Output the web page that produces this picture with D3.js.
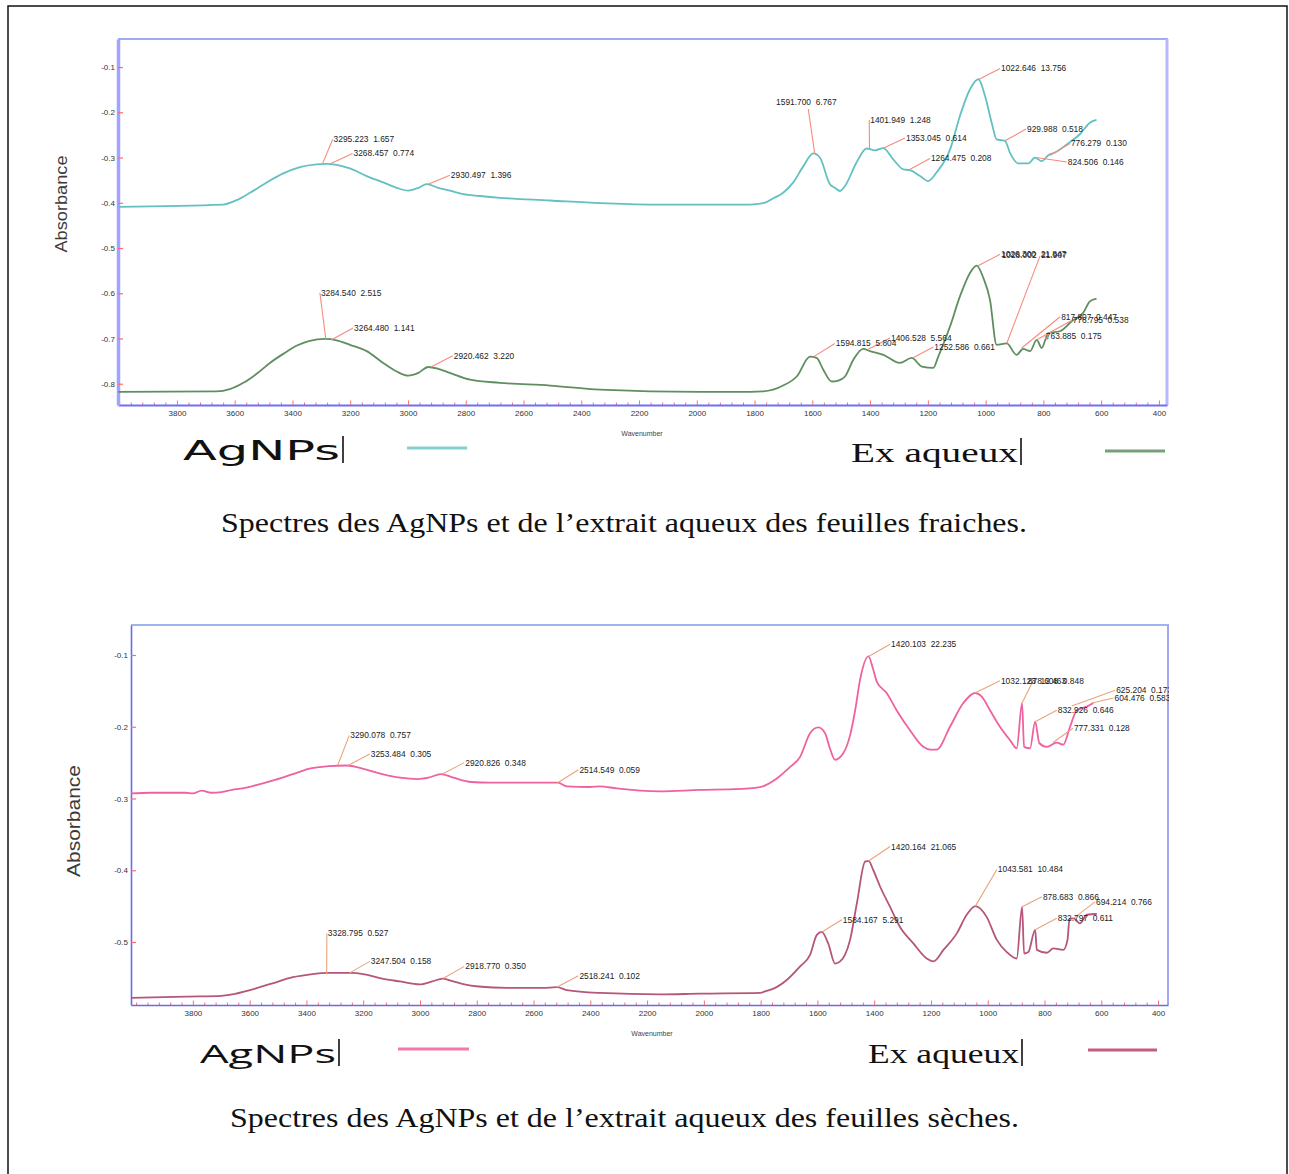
<!DOCTYPE html>
<html>
<head>
<meta charset="utf-8">
<script src="https://cdn.jsdelivr.net/npm/d3@7"></script>
<style>
    body { margin: 0; background: #fff; }
</style>
</head>
<body>
<div id="page"></div>
<script>

// ---- tick labels ----
const wnTicks = [3800, 3600, 3400, 3200, 3000, 2800, 2600, 2400, 2200, 2000, 1800, 1600, 1400, 1200, 1000, 800, 600, 400];
const freshAbsTicks = [-0.1, -0.2, -0.3, -0.4, -0.5, -0.6, -0.7, -0.8];
const dryAbsTicks = [-0.1, -0.2, -0.3, -0.4, -0.5];

// ---- spectra, [wavenumber, absorbance] ----
const freshAgNPs = [
    [4003, -0.409], [3640, -0.404], [3593, -0.394], [3547, -0.378], [3489, -0.355], [3432, -0.335],
    [3374, -0.321], [3316, -0.315], [3282, -0.314], [3247, -0.316], [3201, -0.324], [3143, -0.341],
    [3086, -0.355], [3039, -0.367], [2999, -0.373], [2964, -0.367], [2935, -0.359], [2895, -0.367],
    [2855, -0.373], [2809, -0.381], [2751, -0.385], [2682, -0.389], [2508, -0.395], [2335, -0.401],
    [2162, -0.404], [1989, -0.404], [1816, -0.404], [1770, -0.401], [1735, -0.390], [1701, -0.378],
    [1666, -0.355], [1631, -0.319], [1597, -0.291], [1574, -0.300], [1539, -0.359], [1522, -0.367],
    [1504, -0.374], [1487, -0.363], [1447, -0.311], [1412, -0.280], [1383, -0.284], [1354, -0.279],
    [1320, -0.304], [1285, -0.326], [1262, -0.328], [1227, -0.341], [1199, -0.352], [1170, -0.333],
    [1123, -0.282], [1089, -0.208], [1054, -0.149], [1025, -0.127], [1002, -0.164], [979, -0.223],
    [962, -0.260], [933, -0.263], [916, -0.289], [887, -0.313], [852, -0.313], [829, -0.300],
    [806, -0.308], [783, -0.295], [760, -0.289], [719, -0.271], [673, -0.248], [639, -0.223], [616, -0.217]
];

const freshExtract = [
    [4003, -0.818], [3663, -0.817], [3617, -0.812], [3570, -0.798], [3524, -0.778], [3478, -0.754],
    [3432, -0.734], [3386, -0.716], [3340, -0.705], [3288, -0.701], [3247, -0.704], [3201, -0.714],
    [3143, -0.728], [3086, -0.754], [3039, -0.773], [2999, -0.782], [2964, -0.776], [2930, -0.763],
    [2895, -0.767], [2855, -0.776], [2785, -0.791], [2682, -0.798], [2508, -0.804], [2335, -0.813],
    [1989, -0.818], [1816, -0.818], [1770, -0.817], [1701, -0.804], [1654, -0.784], [1608, -0.740],
    [1585, -0.743], [1562, -0.769], [1533, -0.795], [1510, -0.793], [1487, -0.784], [1458, -0.747],
    [1424, -0.723], [1400, -0.728], [1354, -0.736], [1297, -0.754], [1256, -0.743], [1221, -0.762],
    [1181, -0.765], [1164, -0.740], [1123, -0.673], [1089, -0.607], [1054, -0.555], [1031, -0.539],
    [1008, -0.566], [985, -0.614], [962, -0.714], [927, -0.711], [893, -0.736], [870, -0.723],
    [846, -0.728], [823, -0.703], [806, -0.721], [783, -0.688], [743, -0.684], [702, -0.662],
    [662, -0.643], [639, -0.618], [616, -0.612]
];

const dryAgNPs = [
    [4018, -0.293], [3951, -0.292], [3825, -0.292], [3800, -0.293], [3769, -0.289], [3737, -0.292],
    [3699, -0.291], [3662, -0.288], [3624, -0.286], [3573, -0.281], [3511, -0.274], [3448, -0.266],
    [3385, -0.258], [3322, -0.255], [3259, -0.254], [3196, -0.259], [3133, -0.266], [3070, -0.271],
    [3008, -0.273], [2970, -0.271], [2926, -0.266], [2882, -0.271], [2819, -0.277], [2756, -0.278],
    [2630, -0.278], [2514, -0.278], [2483, -0.283], [2401, -0.284], [2366, -0.283], [2307, -0.286],
    [2155, -0.290], [2014, -0.288], [1896, -0.287], [1802, -0.284], [1743, -0.272], [1696, -0.256],
    [1661, -0.242], [1626, -0.209], [1597, -0.201], [1573, -0.209], [1556, -0.230], [1538, -0.246],
    [1509, -0.237], [1485, -0.212], [1467, -0.177], [1450, -0.135], [1420, -0.102], [1405, -0.118],
    [1391, -0.137], [1356, -0.153], [1321, -0.177], [1274, -0.205], [1227, -0.228], [1203, -0.232],
    [1180, -0.232], [1133, -0.200], [1086, -0.167], [1045, -0.153], [1021, -0.158], [992, -0.177],
    [957, -0.200], [921, -0.219], [898, -0.230], [879, -0.167], [872, -0.228], [851, -0.230],
    [833, -0.193], [818, -0.223], [792, -0.228], [757, -0.222], [734, -0.225], [710, -0.200],
    [686, -0.177], [651, -0.172], [628, -0.167]
];

const dryExtract = [
    [4018, -0.578], [3825, -0.576], [3699, -0.575], [3662, -0.573], [3599, -0.567], [3523, -0.558],
    [3448, -0.549], [3385, -0.545], [3322, -0.543], [3246, -0.543], [3196, -0.545], [3133, -0.551],
    [3070, -0.555], [3001, -0.559], [2957, -0.555], [2920, -0.551], [2882, -0.555], [2844, -0.559],
    [2794, -0.562], [2693, -0.564], [2567, -0.564], [2518, -0.563], [2483, -0.567], [2366, -0.571],
    [2155, -0.573], [2014, -0.572], [1802, -0.571], [1779, -0.568], [1755, -0.565], [1708, -0.553],
    [1661, -0.534], [1626, -0.518], [1602, -0.490], [1585, -0.486], [1562, -0.502], [1538, -0.530],
    [1520, -0.527], [1503, -0.518], [1485, -0.497], [1461, -0.446], [1432, -0.388], [1420, -0.387],
    [1403, -0.400], [1379, -0.423], [1344, -0.451], [1309, -0.479], [1262, -0.502], [1215, -0.523],
    [1191, -0.527], [1156, -0.511], [1109, -0.488], [1074, -0.462], [1043, -0.450], [1004, -0.465],
    [968, -0.497], [933, -0.514], [898, -0.523], [879, -0.451], [872, -0.516], [857, -0.514],
    [833, -0.483], [827, -0.511], [792, -0.515], [769, -0.509], [734, -0.511], [719, -0.497],
    [712, -0.468], [698, -0.467], [675, -0.474], [651, -0.462], [616, -0.461]
];

// ---- peak labels: [peak wn, peak abs, label wn, label abs, text, (text wn, text abs)] ----
const freshAgPeaks = [
    [3295.223, -0.313, 3261, -0.260, "3295.223  1.657"],
    [3268.457, -0.314, 3192, -0.291, "3268.457  0.774"],
    [2930.497, -0.359, 2855, -0.339, "2930.497  1.396"],
    [1591.700, -0.291, 1614, -0.193, "1591.700  6.767", 1729, -0.178],
    [1401.949, -0.279, 1403, -0.217, "1401.949  1.248"],
    [1353.045, -0.279, 1279, -0.257, "1353.045  0.614"],
    [1264.475, -0.327, 1193, -0.302, "1264.475  0.208"],
    [1022.646, -0.127, 950, -0.103, "1022.646  13.756"],
    [929.988, -0.262, 860, -0.237, "929.988  0.518"],
    [776.279, -0.295, 708, -0.269, "776.279  0.130"],
    [824.506, -0.300, 719, -0.310, "824.506  0.146"]
];

const freshExPeaks = [
    [3284.540, -0.701, 3305, -0.599, "3284.540  2.515"],
    [3264.480, -0.703, 3190, -0.677, "3264.480  1.141"],
    [2920.462, -0.763, 2845, -0.738, "2920.462  3.220"],
    [1594.815, -0.740, 1522, -0.711, "1594.815  5.804"],
    [1406.528, -0.724, 1331, -0.699, "1406.528  5.564"],
    [1252.586, -0.743, 1181, -0.719, "1252.586  0.661"],
    [1026.300, -0.539, 950, -0.514, "1026.300  21.847"],
    [927, -0.711, 812, -0.518, "1028.002  21.907", 948, -0.515],
    [875, -0.721, 742, -0.652, "817.807  0.447"],
    [823, -0.703, 702, -0.660, "776.795  0.538"],
    [787, -0.703, 795, -0.695, "763.885  0.175"]
];

const dryAgPeaks = [
    [3290.078, -0.254, 3249, -0.212, "3290.078  0.757"],
    [3253.484, -0.254, 3177, -0.238, "3253.484  0.305"],
    [2920.826, -0.266, 2844, -0.250, "2920.826  0.348"],
    [2514.549, -0.278, 2442, -0.260, "2514.549  0.059"],
    [1420.103, -0.102, 1344, -0.085, "1420.103  22.235"],
    [1045, -0.153, 957, -0.136, "1032.123  12.463"],
    [879, -0.167, 839, -0.135, "878.608  0.848", 862, -0.136],
    [833, -0.193, 757, -0.177, "832.926  0.646"],
    [770, -0.222, 700, -0.202, "777.331  0.128"],
    [704, -0.171, 551, -0.149, "625.204  0.173"],
    [633, -0.167, 557, -0.160, "604.476  0.583"]
];

const dryExPeaks = [
    [3328.795, -0.545, 3328, -0.488, "3328.795  0.527"],
    [3247.504, -0.543, 3177, -0.527, "3247.504  0.158"],
    [2918.770, -0.551, 2844, -0.534, "2918.770  0.350"],
    [2518.241, -0.563, 2442, -0.547, "2518.241  0.102"],
    [1584.167, -0.486, 1514, -0.469, "1584.167  5.291"],
    [1420.164, -0.387, 1344, -0.367, "1420.164  21.065"],
    [1043.581, -0.450, 968, -0.399, "1043.581  10.484"],
    [879, -0.451, 809, -0.437, "878.683  0.866"],
    [698, -0.467, 622, -0.444, "694.214  0.766"],
    [833, -0.483, 757, -0.467, "832.797  0.611"]
];

const sansFont = '"Liberation Sans", Arial, sans-serif';
const serifFont = '"Liberation Serif", "Times New Roman", serif';


/* * * * * * * * * * * * * *
*       SpectrumVis        *
* * * * * * * * * * * * * */

class SpectrumVis {

    constructor(svg, layout, series, peaks, absTicks) {
        this.svg = svg;
        this.layout = layout;
        this.series = series;
        this.peaks = peaks;
        this.absTicks = absTicks;

        this.initVis();
    }

    initVis() {
        let vis = this;
        let L = vis.layout;

        vis.x = d3.scaleLinear().domain(L.wnDomain).range([L.left, L.right]);
        vis.y = d3.scaleLinear().domain(L.absDomain).range([L.bottom, L.top]);

        vis.g = vis.svg.append('g').attr('class', 'spectrum');

        // labels that run past the right frame get cut
        vis.g.append('clipPath').attr('id', 'clip-' + L.id)
            .append('rect')
            .attr('x', 0).attr('y', L.top - 30)
            .attr('width', L.right + 1).attr('height', L.bottom - L.top + 30);

        // top and right frame
        vis.g.append('line')
            .attr('x1', L.left).attr('x2', L.right + 1)
            .attr('y1', L.top).attr('y2', L.top)
            .attr('stroke', L.topColor).attr('stroke-width', 1.5);
        vis.g.append('line')
            .attr('x1', L.right).attr('x2', L.right)
            .attr('y1', L.top).attr('y2', L.bottom)
            .attr('stroke', L.rightColor).attr('stroke-width', L.rightWidth);

        // x axis, minor then major ticks
        let minor = d3.range(400, 4001, 40).filter(d => wnTicks.indexOf(d) < 0);
        vis.g.append('g')
            .attr('transform', `translate(0, ${L.bottom})`)
            .call(d3.axisBottom(vis.x).tickValues(minor).tickSize(-2.5).tickSizeOuter(0).tickFormat(''))
            .call(g => g.select('.domain').remove())
            .call(g => g.selectAll('.tick line').attr('stroke', '#ff6b6b'));

        vis.xAxis = vis.g.append('g')
            .attr('transform', `translate(0, ${L.bottom})`)
            .call(d3.axisBottom(vis.x).tickValues(wnTicks).tickSize(-4.5).tickSizeOuter(0)
                .tickPadding(5).tickFormat(d => String(d)));
        vis.xAxis.select('.domain').attr('stroke', L.axisColor).attr('stroke-width', L.bottomWidth);
        vis.xAxis.selectAll('.tick line').attr('stroke', '#ff6b6b');
        vis.xAxis.selectAll('text').attr('font-size', 8).attr('fill', '#333').attr('font-family', sansFont);

        // y axis
        vis.yAxis = vis.g.append('g')
            .attr('transform', `translate(${L.left}, 0)`)
            .call(d3.axisLeft(vis.y).tickValues(vis.absTicks).tickSize(-5).tickSizeOuter(0)
                .tickPadding(3).tickFormat(d => d.toFixed(1)));
        vis.yAxis.select('.domain').attr('stroke', L.leftColor).attr('stroke-width', L.leftWidth);
        vis.yAxis.selectAll('.tick line').attr('stroke', '#ff6b6b').attr('stroke-width', 1.2);
        vis.yAxis.selectAll('text').attr('font-size', 8).attr('fill', '#333').attr('font-family', sansFont);

        // axis titles
        vis.g.append('text')
            .attr('transform', `translate(${L.yTitleX}, ${(L.top + L.bottom) / 2 + L.yTitleShift}) rotate(-90)`)
            .attr('text-anchor', 'middle')
            .attr('font-family', sansFont)
            .attr('font-size', L.yTitleSize)
            .attr('fill', '#3a3a3a')
            .attr('textLength', L.yTitleLength)
            .attr('lengthAdjust', 'spacingAndGlyphs')
            .text('Absorbance');

        vis.g.append('text')
            .attr('x', L.xTitleX).attr('y', L.bottom + 31)
            .attr('text-anchor', 'middle')
            .attr('font-family', sansFont)
            .attr('font-size', 7)
            .attr('fill', '#444')
            .text('Wavenumber');

        vis.line = d3.line()
            .x(d => vis.x(d[0]))
            .y(d => vis.y(d[1]))
            .curve(d3.curveMonotoneX);

        vis.updateVis();
    }

    updateVis() {
        let vis = this;
        let L = vis.layout;

        vis.g.selectAll('.spectrum-line')
            .data(vis.series)
            .enter()
            .append('path')
            .attr('class', 'spectrum-line')
            .attr('d', d => vis.line(d.values))
            .attr('fill', 'none')
            .attr('stroke', d => d.color)
            .attr('stroke-width', 1.8)
            .attr('stroke-linejoin', 'round');

        let labels = vis.g.append('g').attr('clip-path', `url(#clip-${L.id})`);

        labels.selectAll('.leader')
            .data(vis.peaks)
            .enter()
            .append('line')
            .attr('class', 'leader')
            .attr('x1', d => vis.x(d[0])).attr('y1', d => vis.y(d[1]))
            .attr('x2', d => vis.x(d[2])).attr('y2', d => vis.y(d[3]))
            .attr('stroke', L.leaderColor)
            .attr('stroke-width', 1.1);

        labels.selectAll('.peak-label')
            .data(vis.peaks)
            .enter()
            .append('text')
            .attr('class', 'peak-label')
            .attr('x', d => vis.x(d.length > 5 ? d[5] : d[2]) + 1)
            .attr('y', d => vis.y(d.length > 5 ? d[6] : d[3]))
            .attr('dy', '0.35em')
            .attr('font-family', sansFont)
            .attr('font-size', 8.4)
            .attr('fill', '#222')
            .style('white-space', 'pre')
            .text(d => d[4]);
    }
}


function drawLegend(svg, items) {
    items.forEach(d => {
        svg.append('text')
            .attr('x', d.x).attr('y', d.y)
            .attr('font-family', d.font)
            .attr('font-size', d.size)
            .attr('fill', '#111')
            .attr('textLength', d.length)
            .attr('lengthAdjust', 'spacingAndGlyphs')
            .text(d.label);
        // text cursor bar
        svg.append('line')
            .attr('x1', d.x + d.length + 3).attr('x2', d.x + d.length + 3)
            .attr('y1', d.y - 24).attr('y2', d.y + 3)
            .attr('stroke', '#111').attr('stroke-width', 1.6);
        svg.append('line')
            .attr('x1', d.lx).attr('x2', d.lx + d.lw)
            .attr('y1', d.ly).attr('y2', d.ly)
            .attr('stroke', d.color).attr('stroke-width', 3);
    });
}

function drawCaption(svg, text, x, y, length) {
    svg.append('text')
        .attr('x', x).attr('y', y)
        .attr('font-family', serifFont)
        .attr('font-size', 27)
        .attr('fill', '#111')
        .attr('textLength', length)
        .attr('lengthAdjust', 'spacingAndGlyphs')
        .text(text);
}


const svg = d3.select('#page').append('svg')
    .attr('width', 1289)
    .attr('height', 1174);

// outer frame
svg.append('rect')
    .attr('x', 8).attr('y', 6)
    .attr('width', 1279).attr('height', 1190)
    .attr('fill', 'none').attr('stroke', '#111').attr('stroke-width', 1.5);

new SpectrumVis(svg, {
    id: 'fresh', left: 118, right: 1167, top: 39, bottom: 405,
    wnDomain: [4004, 372], absDomain: [-0.847, -0.038],
    axisColor: '#6f6ff5', leftColor: '#a3a3ff', leftWidth: 3.5, bottomWidth: 2,
    topColor: '#7d8ff0', rightColor: '#b8b8ff', rightWidth: 3,
    leaderColor: '#f48c7c',
    yTitleX: 67, yTitleShift: -18, yTitleSize: 16, yTitleLength: 97, xTitleX: 642
}, [
    {name: 'AgNPs', color: '#62c0c0', values: freshAgNPs},
    {name: 'Ex aqueux', color: '#5f8e5f', values: freshExtract}
], freshAgPeaks.concat(freshExPeaks), freshAbsTicks);

new SpectrumVis(svg, {
    id: 'dry', left: 131, right: 1168, top: 625, bottom: 1005,
    wnDomain: [4018, 365], absDomain: [-0.5878, -0.0582],
    axisColor: '#6b6be3', leftColor: '#6b6be3', leftWidth: 1.6, bottomWidth: 1.6,
    topColor: '#7d9be8', rightColor: '#a8a8f0', rightWidth: 2,
    leaderColor: '#e9a37f',
    yTitleX: 80, yTitleShift: 6, yTitleSize: 19, yTitleLength: 112, xTitleX: 652
}, [
    {name: 'AgNPs', color: '#f0619f', values: dryAgNPs},
    {name: 'Ex aqueux', color: '#b5567a', values: dryExtract}
], dryAgPeaks.concat(dryExPeaks), dryAbsTicks);

drawLegend(svg, [
    {label: 'AgNPs', x: 183, y: 460, size: 26, length: 157, font: '"DejaVu Sans", sans-serif',
        lx: 407, lw: 60, ly: 448, color: '#86cfcf'},
    {label: 'Ex aqueux', x: 851, y: 462, size: 28, length: 167, font: serifFont,
        lx: 1105, lw: 60, ly: 451, color: '#78a078'},
    {label: 'AgNPs', x: 200, y: 1063, size: 26, length: 136, font: '"Open Sans", sans-serif',
        lx: 398, lw: 71, ly: 1049, color: '#f27aab'},
    {label: 'Ex aqueux', x: 868, y: 1063, size: 28, length: 151, font: serifFont,
        lx: 1088, lw: 69, ly: 1050, color: '#c0607f'}
]);

drawCaption(svg, 'Spectres des AgNPs et de l’extrait aqueux des feuilles fraiches.', 221, 532, 806);
drawCaption(svg, 'Spectres des AgNPs et de l’extrait aqueux des feuilles sèches.', 230, 1127, 789);

</script>
</body>
</html>
